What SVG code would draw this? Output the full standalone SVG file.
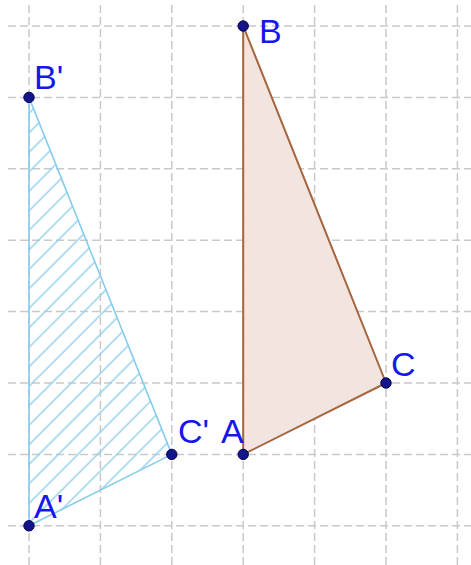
<svg xmlns="http://www.w3.org/2000/svg" width="471" height="565" viewBox="0 0 471 565">
  <style>
    .grid line { stroke: #c9c9c9; stroke-width: 1.5; stroke-dasharray: 8 4; }
    .pt { fill: #14148c; stroke: #00004a; stroke-width: 1; }
    .lbl { font-family: "Liberation Sans", Arial, sans-serif; font-size: 34px; fill: #1616ee; }
    .orig { fill: #f2e5df; stroke: #a5653f; stroke-width: 2; stroke-linejoin: round; }
    .img { fill: url(#hatch); stroke: #86ccec; stroke-width: 1.6; stroke-linejoin: round; }
  </style>
  <defs>
    <pattern id="hatch" patternUnits="userSpaceOnUse" width="13.79" height="40" patternTransform="rotate(45)">
      <line x1="4.1" y1="-5" x2="4.1" y2="45" stroke="#8fd0ee" stroke-width="1.4"/>
    </pattern>
  </defs>
  <rect width="471" height="565" fill="#ffffff"/>
  <g id="grid" class="grid">
    <line x1="29" y1="5" x2="29" y2="565"/>
    <line x1="100.4" y1="5" x2="100.4" y2="565"/>
    <line x1="171.8" y1="5" x2="171.8" y2="565"/>
    <line x1="243.2" y1="5" x2="243.2" y2="565"/>
    <line x1="314.6" y1="5" x2="314.6" y2="565"/>
    <line x1="386" y1="5" x2="386" y2="565"/>
    <line x1="457.4" y1="5" x2="457.4" y2="565"/>
    <line x1="8" y1="26" x2="471" y2="26"/>
    <line x1="8" y1="97.4" x2="471" y2="97.4"/>
    <line x1="8" y1="168.8" x2="471" y2="168.8"/>
    <line x1="8" y1="240.2" x2="471" y2="240.2"/>
    <line x1="8" y1="311.6" x2="471" y2="311.6"/>
    <line x1="8" y1="383" x2="471" y2="383"/>
    <line x1="8" y1="454.4" x2="471" y2="454.4"/>
    <line x1="8" y1="525.8" x2="471" y2="525.8"/>
  </g>
  <g id="connectors">
    <polygon id="triangle-ABC" class="orig" points="243.2,26 386,383 243.2,454.4"/>
    <polygon id="triangle-A1B1C1" class="img" points="29,97.4 171.8,454.4 29,525.8"/>
  </g>
  <g id="node-B"><circle class="pt" cx="243.2" cy="26" r="5.2"/><text class="lbl" x="259" y="43">B</text></g>
  <g id="node-C"><circle class="pt" cx="386" cy="383" r="5.2"/><text class="lbl" x="391" y="376">C</text></g>
  <g id="node-A"><circle class="pt" cx="243.2" cy="454.4" r="5.2"/><text class="lbl" x="221" y="443">A</text></g>
  <g id="node-B1"><circle class="pt" cx="29" cy="97.4" r="5.2"/><text class="lbl" x="34" y="89">B'</text></g>
  <g id="node-C1"><circle class="pt" cx="171.8" cy="454.4" r="5.2"/><text class="lbl" x="178" y="443">C'</text></g>
  <g id="node-A1"><circle class="pt" cx="29" cy="525.8" r="5.2"/><text class="lbl" x="34" y="518">A'</text></g>
</svg>
